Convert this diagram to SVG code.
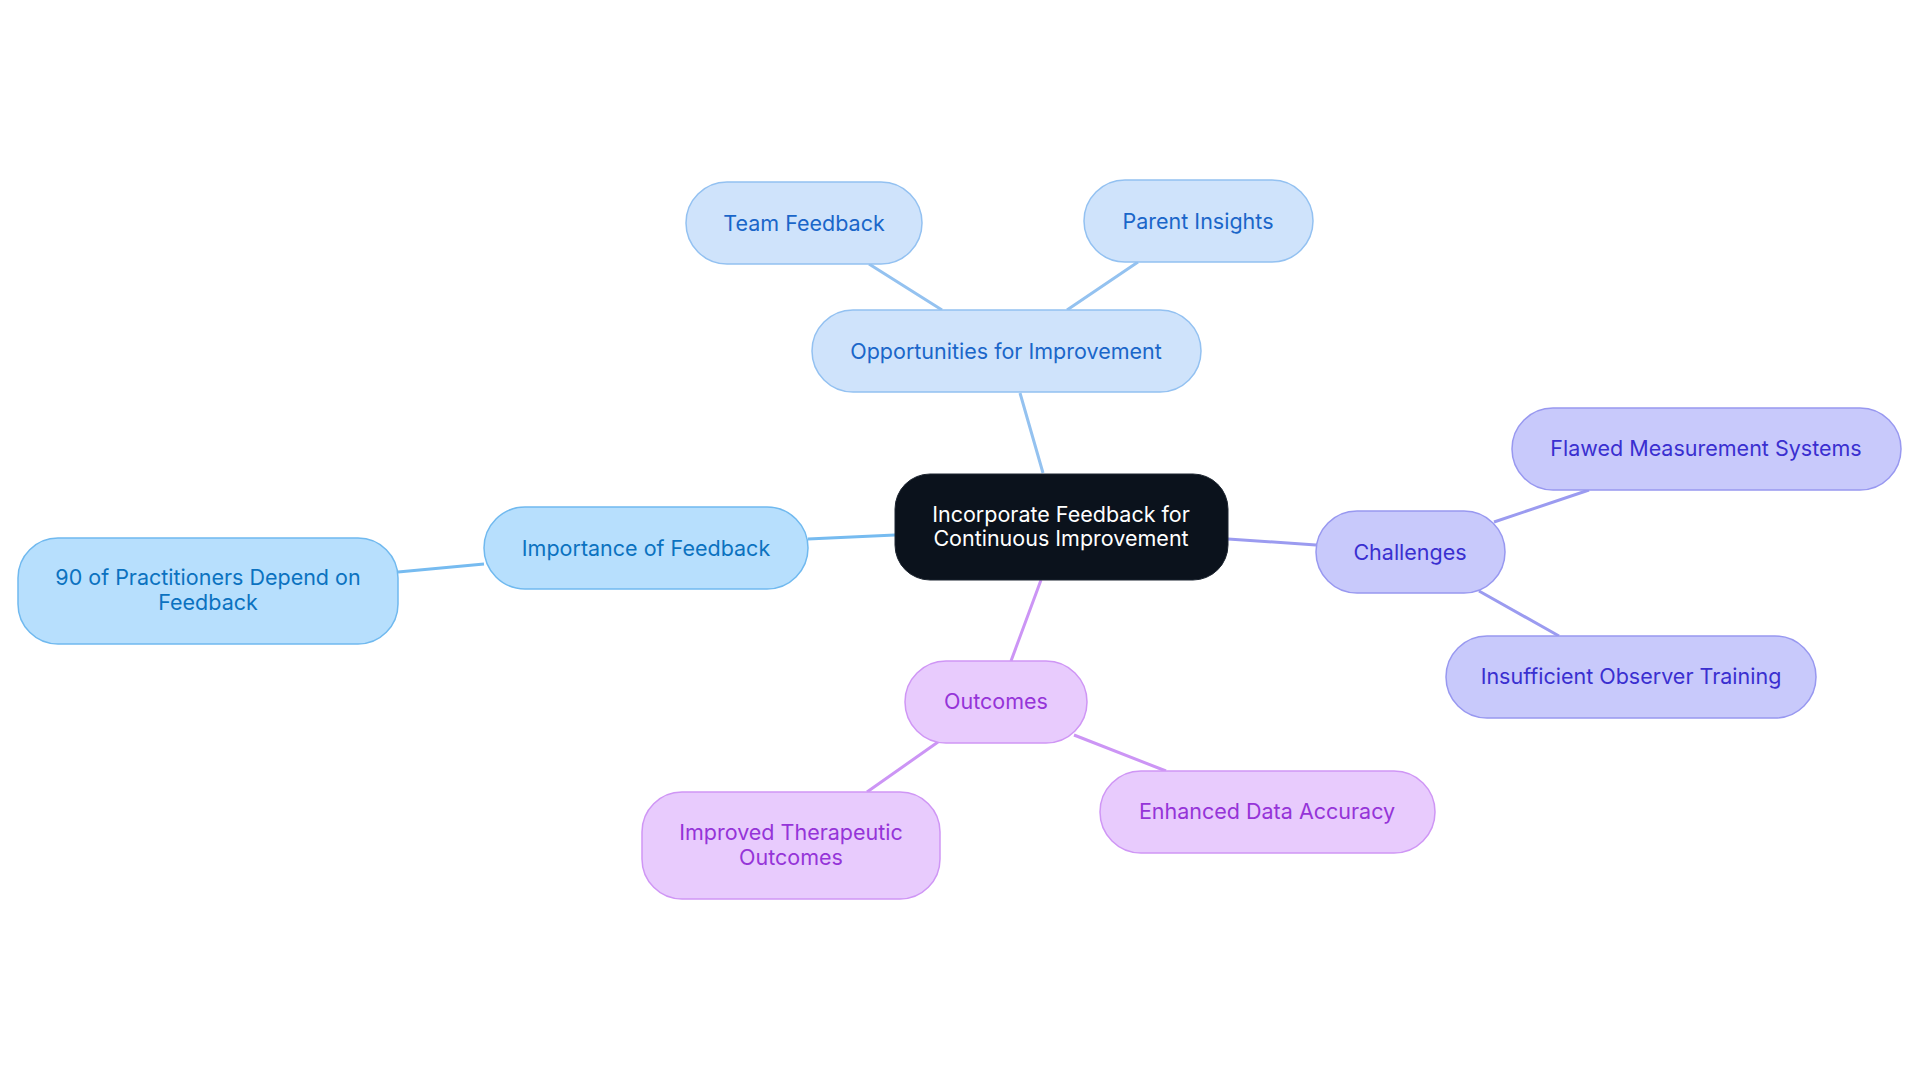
<svg xmlns="http://www.w3.org/2000/svg" width="1920" height="1083" viewBox="0 0 1920 1083">
<style>
text{font-family:Inter,"Noto Sans",sans-serif;font-size:21.5px;text-anchor:middle;dominant-baseline:central}
.e{fill:none;stroke-width:3}
.b rect{fill:#cfe3fb;stroke:#93c1f1;stroke-width:1.5}.b text{fill:#1a66c9}
.s rect{fill:#b7dffd;stroke:#70b9ef;stroke-width:1.5}.s text{fill:#0b72c0}
.i rect{fill:#c8c9fb;stroke:#9898f0;stroke-width:1.5}.i text{fill:#3a2fd0}
.p rect{fill:#e8cbfd;stroke:#cf96f5;stroke-width:1.5}.p text{fill:#9534d8}
</style>
<rect width="1920" height="1083" fill="#fff"/>
<g id="connectors">
<path class="e" stroke="#94c2f0" d="M1043 473L1020 393M942 310L869 264M1067 310L1138 262"/>
<path class="e" stroke="#76bbf0" d="M895 535L808 539M484 564L398 572"/>
<path class="e" stroke="#9b9bf0" d="M1228 539L1316 545M1494 522L1589 490M1479 591L1559 636"/>
<path class="e" stroke="#cc95f5" d="M1041 580L1011 661M938 742L867 792M1074 735L1166 771"/>
</g>
<g id="center"><rect x="895" y="474" width="333" height="106" rx="35" fill="#0b121c" stroke="#1d2530"/><text x="1061" y="514" fill="#fff">Incorporate Feedback for</text><text x="1061" y="538" fill="#fff">Continuous Improvement</text></g>
<g id="opp" class="b"><rect x="812" y="310" width="389" height="82" rx="41"/><text x="1006" y="351">Opportunities for Improvement</text></g>
<g id="team" class="b"><rect x="686" y="182" width="236" height="82" rx="41"/><text x="804" y="223">Team Feedback</text></g>
<g id="parent" class="b"><rect x="1084" y="180" width="229" height="82" rx="41"/><text x="1198" y="221">Parent Insights</text></g>
<g id="imp" class="s"><rect x="484" y="507" width="324" height="82" rx="41"/><text x="646" y="548">Importance of Feedback</text></g>
<g id="ninety" class="s"><rect x="18" y="538" width="380" height="106" rx="40"/><text x="208" y="577">90 of Practitioners Depend on</text><text x="208" y="602">Feedback</text></g>
<g id="chal" class="i"><rect x="1316" y="511" width="189" height="82" rx="41"/><text x="1410" y="552">Challenges</text></g>
<g id="flawed" class="i"><rect x="1512" y="408" width="389" height="82" rx="41"/><text x="1706" y="448">Flawed Measurement Systems</text></g>
<g id="insuff" class="i"><rect x="1446" y="636" width="370" height="82" rx="41"/><text x="1631" y="676">Insufficient Observer Training</text></g>
<g id="out" class="p"><rect x="905" y="661" width="182" height="82" rx="41"/><text x="996" y="701">Outcomes</text></g>
<g id="improved" class="p"><rect x="642" y="792" width="298" height="107" rx="40"/><text x="791" y="832">Improved Therapeutic</text><text x="791" y="857">Outcomes</text></g>
<g id="enh" class="p"><rect x="1100" y="771" width="335" height="82" rx="41"/><text x="1267" y="811">Enhanced Data Accuracy</text></g>
</svg>
